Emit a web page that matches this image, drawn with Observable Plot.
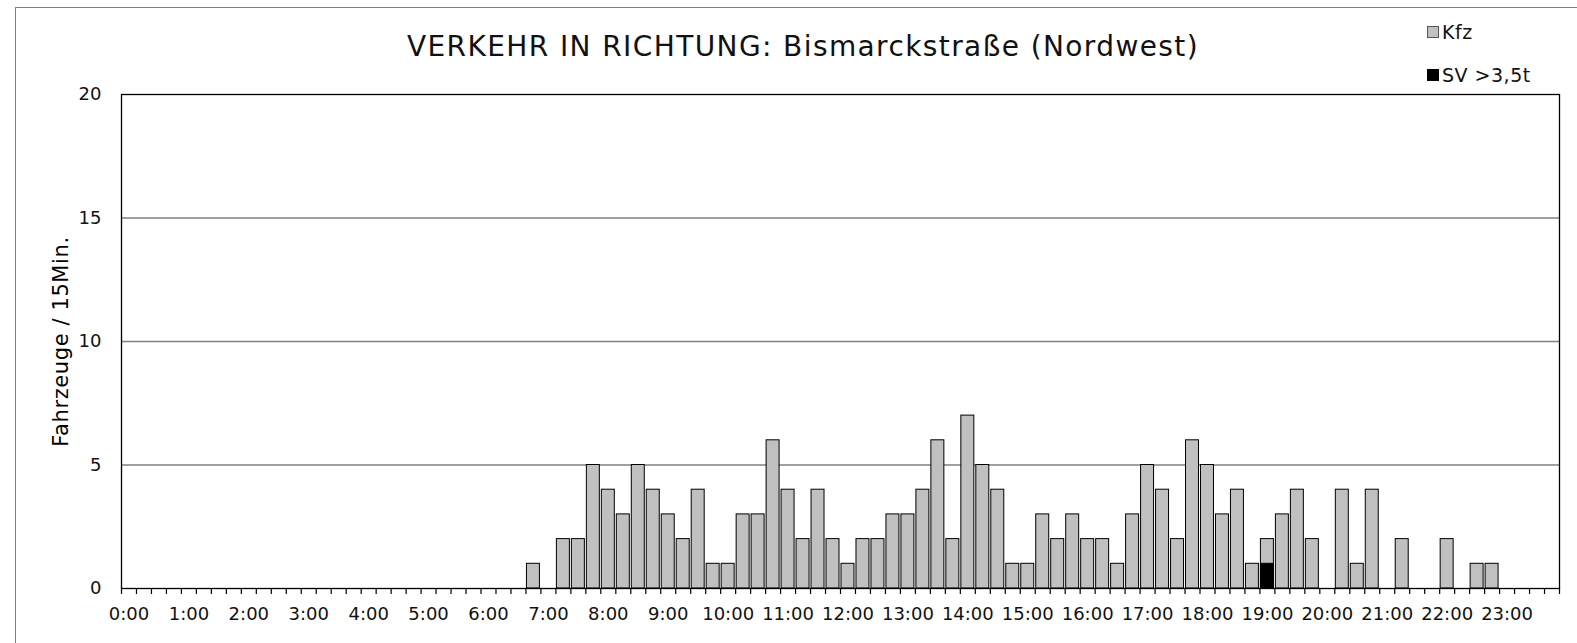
<!DOCTYPE html>
<html>
<head>
<meta charset="utf-8">
<script src="https://cdn.jsdelivr.net/npm/d3@7"></script>
<script src="https://cdn.jsdelivr.net/npm/@observablehq/plot@0.6"></script>
<style>
  html, body { margin: 0; padding: 0; background: #fff; }
  #wrap { position: relative; width: 1577px; height: 643px; overflow: hidden; font-family: "DejaVu Sans", sans-serif; color: #111; }
  #border { position: absolute; left: 15px; top: 7px; width: 1600px; height: 700px; border-left: 1px solid #808080; border-top: 1px solid #808080; }
  #title { position: absolute; top: 30px; left: 803px; transform: translateX(-50%); font-size: 28px; letter-spacing: 1.4px; white-space: nowrap; }
  .leg { position: absolute; left: 1427px; font-size: 19px; letter-spacing: 0.5px; white-space: nowrap; display: flex; align-items: center; }
  .sw { display: inline-block; width: 10px; height: 10px; margin-right: 3px; border: 1px solid #555; }
  #chart { position: absolute; left: 0; top: 0; }
  #chart svg [aria-label="y-axis label"] text { font-size: 21px; letter-spacing: 0.6px; fill: #000; }
</style>
</head>
<body>
<div id="wrap">
  <div id="border"></div>
  <div id="chart"></div>
  <div id="title">VERKEHR IN RICHTUNG: Bismarckstraße (Nordwest)</div>
  <div class="leg" style="top:21px"><span class="sw" style="background:#c0c0c0"></span>Kfz</div>
  <div class="leg" style="top:64px"><span class="sw" style="background:#000;border-color:#000"></span>SV &gt;3,5t</div>
</div>
<script>
// 96 quarter-hour slots, 0:00 .. 23:45
const slots = d3.range(96);
const kfz = [
  0,0,0,0, 0,0,0,0, 0,0,0,0, 0,0,0,0, 0,0,0,0, 0,0,0,0, 0,0,0,1,
  0,2,2,5, 4,3,5,4, 3,2,4,1, 1,3,3,6, 4,2,4,2, 1,2,2,3, 3,4,6,2,
  7,5,4,1, 1,3,2,3, 2,2,1,3, 5,4,2,6, 5,3,4,1, 2,3,4,2, 0,4,1,4,
  0,2,0,0, 2,0,1,1, 0,0,0,0
];
const sv = slots.map(i => (i === 76 ? 1 : 0));
const hourTicks = d3.range(24);
const yTicks = [0, 5, 10, 15, 20];
const gridTicks = [5, 10, 15];

const data = slots.map(i => ({i, kfz: kfz[i], sv: sv[i]}));

const plot = Plot.plot({
  width: 1577,
  height: 643,
  marginLeft: 121,
  marginRight: 18,
  marginTop: 94,
  marginBottom: 55,
  style: {fontFamily: "DejaVu Sans, sans-serif", fontSize: "18px", color: "#111", background: "transparent", overflow: "visible"},
  x: {domain: [0, 96]},
  y: {domain: [0, 20]},
  marks: [
    Plot.gridY(gridTicks, {stroke: "#808080", strokeOpacity: 1, strokeWidth: 1.5}),
    Plot.rectY(data.filter(d => d.kfz > 0), {x1: "i", x2: d => d.i + 1, y: "kfz", fill: "#c0c0c0", stroke: "#000", strokeWidth: 1, insetLeft: 1, insetRight: 1}),
    Plot.rectY(data.filter(d => d.sv > 0), {x1: "i", x2: d => d.i + 1, y: "sv", fill: "#000", stroke: "#000", strokeWidth: 1, insetLeft: 1, insetRight: 1}),
    Plot.frame({stroke: "#000", strokeWidth: 1.3}),
    Plot.axisX(d3.range(97), {tickSize: 6, tickFormat: () => "", stroke: "#000", strokeWidth: 1.2, label: null}),
    Plot.axisX(hourTicks.map(h => h * 4 + 0.5), {tickSize: 0, tickPadding: 19, tickFormat: d => `${Math.floor(d / 4)}:00`, label: null, fill: "#111"}),
    Plot.axisY(yTicks, {tickSize: 0, tickPadding: 20, label: "Fahrzeuge / 15Min.", labelAnchor: "center", labelArrow: "none", labelOffset: 68, fill: "#111"})
  ]
});
document.getElementById("chart").appendChild(plot);
</script>
</body>
</html>
